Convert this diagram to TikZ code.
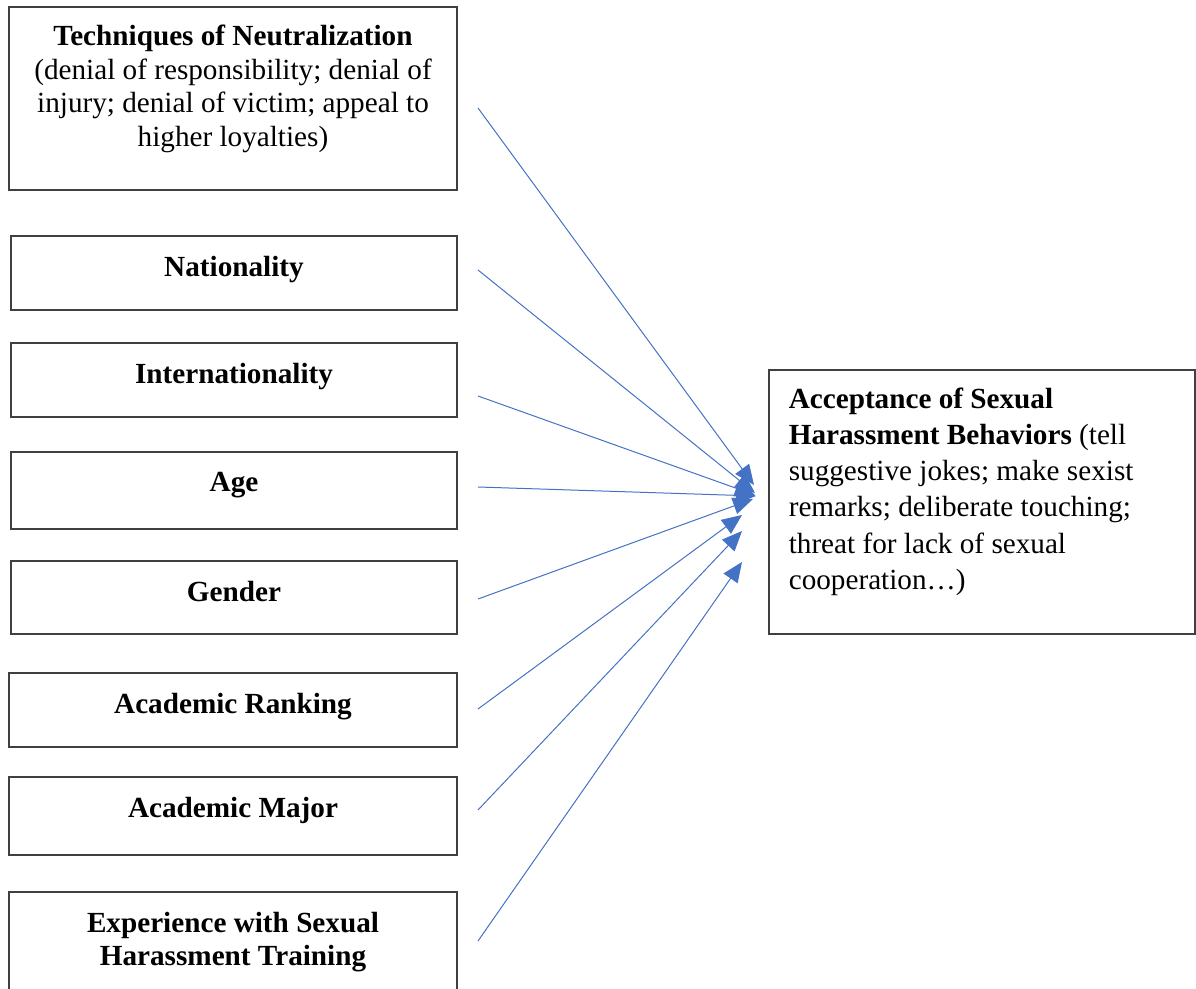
\documentclass[tikz,border=0pt]{standalone}
\usepackage{fontspec}
\setmainfont{Liberation Serif}
\usetikzlibrary{arrows.meta,positioning}
\definecolor{arrowblue}{RGB}{68,114,196}
\definecolor{boxgray}{RGB}{64,64,64}
\tikzset{
  factorbox/.style={draw=boxgray,line width=0.6pt,minimum width=224pt,inner sep=0pt},
  outcomebox/.style={draw=boxgray,line width=0.6pt,minimum width=213pt,
    minimum height=132pt,inner sep=0pt},
  boxtext/.style={inner sep=0pt,align=center,font=\fontsize{14.6}{16.9}\selectfont},
  outcometext/.style={inner sep=0pt,align=left,font=\fontsize{14.6}{18.1}\selectfont},
  effectarrow/.style={-{Triangle[length=10pt,width=8.5pt]},line width=0.5pt,draw=arrowblue},
}

\begin{document}
\begin{tikzpicture}[x=0.5pt,y=-0.5pt]
  \useasboundingbox (0,0) rectangle (1196,989);
  \clip (0,0) rectangle (1196,989);
  % predictors
  \node[factorbox,minimum height=91.5pt] (tech) at (233,98.5) {};
  \node[factorbox,minimum width=223pt,minimum height=37pt] (nat) at (234,273) {};
  \node[factorbox,minimum width=223pt,minimum height=37pt] (intl) at (234,380) {};
  \node[factorbox,minimum width=223pt,minimum height=38.5pt] (age) at (234,490.5) {};
  \node[factorbox,minimum width=223pt,minimum height=36.5pt] (gender) at (234,597.5) {};
  \node[factorbox,minimum height=37pt] (rank) at (233,710) {};
  \node[factorbox,minimum height=39pt] (major) at (233,816) {};
  \node[factorbox,minimum height=56pt] (train) at (233,948) {};
  \node[boxtext,below=9pt of tech.north] (techtext) {\textbf{Techniques of Neutralization}\\
    (denial of responsibility; denial of\\injury; denial of victim; appeal to\\higher loyalties)};
  \node[boxtext,below=10pt of nat.north] (nattext) {\textbf{Nationality}};
  \node[boxtext,below=10pt of intl.north] (intltext) {\textbf{Internationality}};
  \node[boxtext,below=10pt of age.north] (agetext) {\textbf{Age}};
  \node[boxtext,below=10pt of gender.north] (gendertext) {\textbf{Gender}};
  \node[boxtext,below=10pt of rank.north] (ranktext) {\textbf{Academic Ranking}};
  \node[boxtext,below=10pt of major.north] (majortext) {\textbf{Academic Major}};
  \node[boxtext,below=10pt of train.north] (traintext) {\textbf{Experience with Sexual}\\
    \textbf{Harassment Training}};
  % outcome
  \node[outcomebox] (accept) at (982,502) {};
  \node[outcometext,below right=9pt and 10pt of accept.north west] (accepttext)
    {\textbf{Acceptance of Sexual}\\\textbf{Harassment Behaviors} (tell\\suggestive jokes; make sexist\\
    remarks; deliberate touching;\\threat for lack of sexual\\cooperation…)};
  % arrows
  \coordinate (techout) at (478,108);
  \coordinate (natout) at (478,270);
  \coordinate (intlout) at (478,396);
  \coordinate (ageout) at (478,487);
  \coordinate (genderout) at (478,599);
  \coordinate (rankout) at (478,709);
  \coordinate (majorout) at (478,810);
  \coordinate (trainout) at (478,941);
  \coordinate (techin) at (754,485);
  \coordinate (natin) at (755,493);
  \coordinate (intlin) at (755,495);
  \coordinate (agein) at (756,496);
  \coordinate (genderin) at (753,499);
  \coordinate (rankin) at (742,515);
  \coordinate (majorin) at (742,531);
  \coordinate (trainin) at (742,562);
  \foreach \f in {tech,nat,intl,age,gender,rank,major,train}
    \draw[effectarrow] (\f out) -- (\f in);
\end{tikzpicture}
\end{document}
